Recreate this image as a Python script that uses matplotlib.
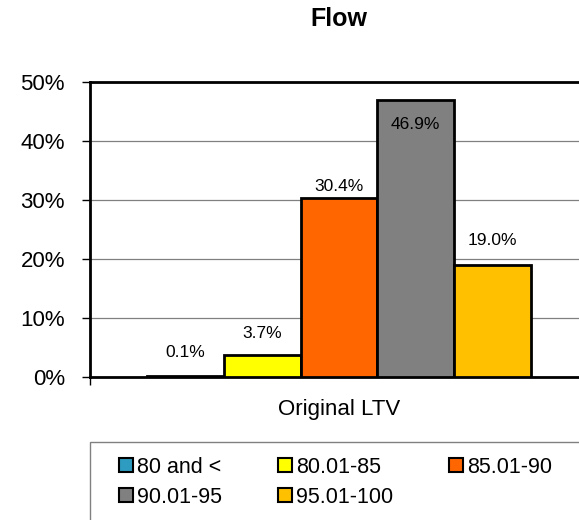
import matplotlib
matplotlib.use("Agg")
import matplotlib.pyplot as plt
import matplotlib.patches as mpatches
from matplotlib.ticker import FuncFormatter

plt.rcParams["font.family"] = ["Liberation Sans", "DejaVu Sans"]

# data
categories = ["80 and <", "80.01-85", "85.01-90", "90.01-95", "95.01-100"]
values = [0.1, 3.7, 30.4, 46.9, 19.0]
colors = ["#2E9BC0", "#FFFF00", "#FF6600", "#808080", "#FFC000"]
label_offsets = [24, 22, 11, -24, 24]  # px above bar top (negative = inside)
yticks = [0, 10, 20, 30, 40, 50]

W, H = 579, 520
fig = plt.figure(figsize=(W / 100, H / 100), dpi=100)
ax = fig.add_axes([90 / W, 1 - 377 / H, 498 / W, 295 / H])

x = list(range(len(values)))
bars = ax.bar(x, values, width=1.0, color=colors, edgecolor="black",
              linewidth=2, zorder=3)

for xi, v, off in zip(x, values, label_offsets):
    ax.annotate(f"{v:.1f}%", (xi, v), xytext=(0, off * 0.72),
                textcoords="offset points", ha="center", va="center",
                fontsize=12.5, zorder=4)

ax.set_xlim(-1.242, 5.242)
ax.set_ylim(0, 50)
ax.set_yticks(yticks)
ax.yaxis.set_major_formatter(FuncFormatter(lambda v, p: f"{v:.0f}%"))
ax.tick_params(axis="y", direction="out", length=6, width=1, labelsize=16, pad=12)
ax.set_xticks([-1.242])
ax.set_xticklabels([""])
ax.tick_params(axis="x", direction="out", length=6, width=1)
ax.yaxis.grid(True, color="#808080", linewidth=0.9, zorder=0)

for s in ["left", "top", "bottom", "right"]:
    ax.spines[s].set_linewidth(2)
    ax.spines[s].set_color("black")

ax.text(0.5, -0.11, "Original LTV", transform=ax.transAxes, ha="center",
        va="center", fontsize=16)

fig.text(339 / W, 1 - 19 / H, "Flow", ha="center", va="center",
         fontsize=18, fontweight="bold")

# legend box
fig.patches.append(mpatches.Rectangle((90 / W, -0.1), 520 / W, 0.1 + (H - 442) / H,
                                      transform=fig.transFigure, facecolor="white",
                                      edgecolor="#808080", linewidth=1))
handles = [mpatches.Patch(facecolor=c, edgecolor="black", linewidth=1.5, label=l)
           for c, l in zip(colors, categories)]
# matplotlib fills legend column-wise; reorder so rows read left to right
order = [0, 3, 1, 4, 2]
fig.legend(handles=[handles[i] for i in order], loc="upper left",
           bbox_to_anchor=(110 / W, 1 - 448 / H), ncol=3, frameon=False,
           fontsize=15.5, handlelength=0.65, handleheight=0.65, handletextpad=0.2,
           columnspacing=2.6, labelspacing=0.42, borderaxespad=0)

fig.savefig("out.png", dpi=100)
